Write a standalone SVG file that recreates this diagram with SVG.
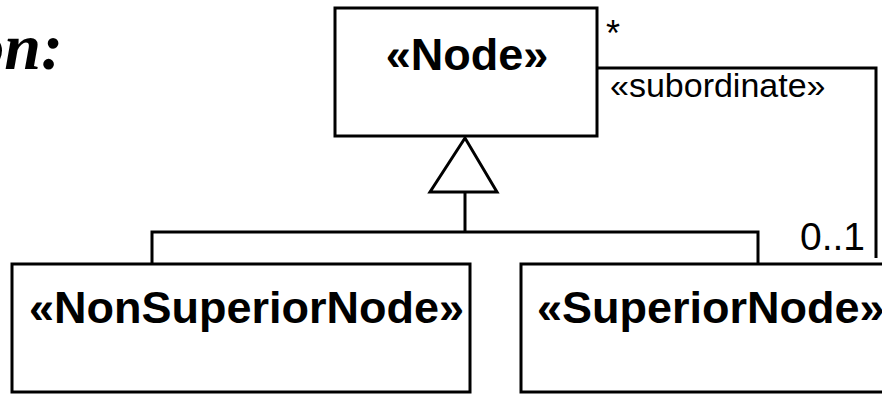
<svg xmlns="http://www.w3.org/2000/svg" width="882" height="394" viewBox="0 0 882 394">
<style>
.box{fill:#fff;stroke:#000;stroke-width:3}
.ln{fill:none;stroke:#000;stroke-width:3}
.nm{font-family:"Liberation Sans",Arial,sans-serif;font-weight:bold;font-size:45px;fill:#000}
.lb{font-family:"Liberation Sans",Arial,sans-serif;font-size:34px;fill:#000}
.ttl{font-family:"Liberation Serif","Times New Roman",serif;font-weight:bold;font-style:italic;font-size:66px;fill:#000}
</style>
<rect width="882" height="394" fill="#fff"/>
<text class="ttl" x="63" y="69" text-anchor="end">on:</text>
<g id="connectors">
<polygon class="ln" points="465,138 430,192 497,192" stroke-linejoin="miter"/>
<polyline class="ln" points="465,192 465,232"/>
<polyline class="ln" points="152,264 152,232 758,232 758,264"/>
<polyline class="ln" points="597,68 876,68 876,258"/>
<text class="lb" x="606" y="46" style="font-size:36px">*</text>
<text class="lb" x="610" y="97">«subordinate»</text>
<text class="lb" x="800" y="250" style="font-size:39px">0..1</text>
</g>
<g id="node">
<rect class="box" x="335" y="8" width="262" height="128"/>
<text class="nm" x="467" y="70" text-anchor="middle">«Node»</text>
</g>
<g id="nonsuperior">
<rect class="box" x="12" y="264" width="458" height="128"/>
<text class="nm" x="29" y="323">«NonSuperiorNode»</text>
</g>
<g id="superior">
<rect class="box" x="521" y="264" width="420" height="128"/>
<text class="nm" x="537" y="323">«SuperiorNode»</text>
</g>
</svg>
